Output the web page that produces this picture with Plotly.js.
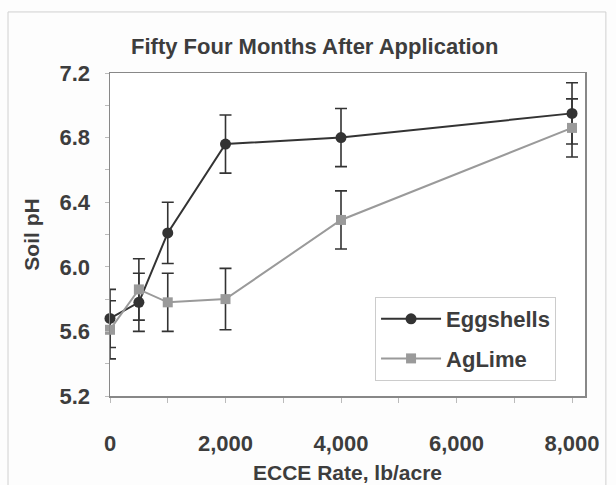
<!DOCTYPE html>
<html>
<head>
<meta charset="utf-8">
<script src="https://cdn.plot.ly/plotly-3.0.1.min.js"></script>
<style>html,body{margin:0;padding:0;background:#fff;}#chart{width:616px;height:485px;}</style>
</head>
<body>
<div id="chart"></div>
<script>
const rates = [0, 500, 1000, 2000, 4000, 8000];
const eggshellsPH = [5.68, 5.78, 6.21, 6.76, 6.80, 6.95];
const eggshellsErr = [0.18, 0.18, 0.19, 0.18, 0.18, 0.19];
const aglimePH = [5.61, 5.86, 5.78, 5.80, 6.29, 6.86];
const aglimeErr = [0.18, 0.19, 0.18, 0.19, 0.18, 0.18];
const xTickVals = [0, 2000, 4000, 6000, 8000];
const xTickText = ['0', '2,000', '4,000', '6,000', '8,000'];
const yTickVals = [5.2, 5.6, 6.0, 6.4, 6.8, 7.2];
const yTickText = ['5.2', '5.6', '6.0', '6.4', '6.8', '7.2'];

const FONT = 'Liberation Sans, Arial, sans-serif';
const TXT = '#3d3d3d';
const bold = s => '<b>' + s + '</b>';

const traces = [
  {
    x: rates, y: eggshellsPH, name: bold('Eggshells'), type: 'scatter', mode: 'lines+markers',
    legendgroup: 'a', cliponaxis: false,
    line: {color: '#333333', width: 2},
    marker: {symbol: 'circle', size: 11, color: '#333333'},
    error_y: {type: 'data', array: eggshellsErr, visible: true, color: '#333333', thickness: 1.6, width: 6}
  },
  {
    x: rates, y: aglimePH, name: bold('AgLime'), type: 'scatter', mode: 'lines+markers',
    legendgroup: 'b', cliponaxis: false,
    line: {color: '#9a9a9a', width: 2},
    marker: {symbol: 'square', size: 10, color: '#9a9a9a'},
    error_y: {type: 'data', array: aglimeErr, visible: true, color: '#333333', thickness: 1.6, width: 6}
  }
];

const layout = {
  width: 616, height: 485,
  margin: {l: 110, r: 31, t: 73, b: 89},
  paper_bgcolor: '#fdfdfd', plot_bgcolor: '#ffffff',
  font: {family: FONT, size: 21, color: TXT},
  title: {text: bold('Fifty Four Months After Application'), x: 0.511, xref: 'container', y: 0.905, yref: 'container', yanchor: 'middle', font: {family: FONT, size: 22, color: TXT}},
  showlegend: true,
  legend: {
    x: 0.558, y: 0.3065, xanchor: 'left', yanchor: 'top',
    bgcolor: '#ffffff', bordercolor: '#cccccc', borderwidth: 1,
    traceorder: 'grouped', tracegroupgap: 8, itemwidth: 60,
    font: {family: FONT, size: 22, color: TXT}
  },
  xaxis: {
    range: [0, 8225], tickmode: 'array', tickvals: xTickVals, ticktext: xTickText.map(bold),
    ticks: 'outside', ticklen: 5, tickcolor: '#bbbbbb', tickwidth: 1,
    minor: {dtick: 1000, ticks: 'outside', ticklen: 5, tickcolor: '#bbbbbb'},
    showline: true, linecolor: '#888888', linewidth: 1.5, mirror: true,
    showgrid: false, zeroline: false,
    tickfont: {family: FONT, size: 22, color: TXT},
    ticklabelstandoff: 22,
    title: {text: bold('ECCE Rate, lb/acre'), font: {family: FONT, size: 21, color: TXT}, standoff: 10}
  },
  yaxis: {
    range: [5.2, 7.2], tickmode: 'array', tickvals: yTickVals, ticktext: yTickText.map(bold),
    ticks: 'outside', ticklen: 4, tickcolor: '#bbbbbb', tickwidth: 1,
    minor: {dtick: 0.2, ticks: 'outside', ticklen: 4, tickcolor: '#bbbbbb'},
    showline: true, linecolor: '#888888', linewidth: 1.5, mirror: true,
    showgrid: false, zeroline: false,
    tickfont: {family: FONT, size: 22, color: TXT},
    ticklabelstandoff: 10,
    title: {text: bold('Soil pH'), font: {family: FONT, size: 21, color: TXT}, standoff: 14}
  },
  shapes: [
    {type: 'rect', xref: 'paper', yref: 'paper', x0: -0.2147, x1: 1.044, y0: -0.32, y1: 1.189,
     line: {color: '#d0d0d0', width: 1}, fillcolor: 'rgba(0,0,0,0)', layer: 'below'}
  ]
};

Plotly.newPlot('chart', traces, layout, {displayModeBar: false, staticPlot: true});
</script>
</body>
</html>
